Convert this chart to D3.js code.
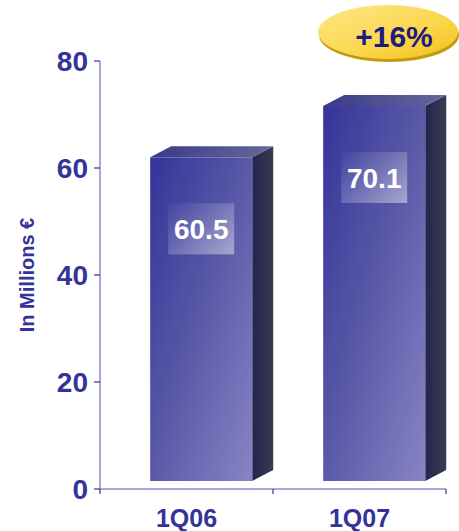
<!DOCTYPE html>
<html><head><meta charset="utf-8">
<script src="https://cdn.jsdelivr.net/npm/d3@7/dist/d3.min.js"></script>
<style>html,body{margin:0;padding:0;background:#fff;}svg{display:block;}</style>
</head><body>
<svg id="c" width="459" height="531"></svg>
<script>
const categories = ["1Q06", "1Q07"];
const values = [60.5, 70.1];
const valueLabels = ["60.5", "70.1"];
const yTicks = [0, 20, 40, 60, 80];
const growthLabel = "+16%";
const yTitle = "In Millions €";

const svg = d3.select("#c");
const font = "'Liberation Sans', Arial, sans-serif";
const navy = "#333399";

const x = d3.scaleBand().domain(categories).range([100, 446]);
const y = d3.scaleLinear().domain([0, 80]).range([489, 61]);

const defs = svg.append("defs");
const fg = defs.append("linearGradient").attr("id", "front").attr("x1", 0).attr("y1", 0).attr("x2", 1).attr("y2", 1);
fg.append("stop").attr("offset", 0).attr("stop-color", "#34349a");
fg.append("stop").attr("offset", 0.5).attr("stop-color", "#5a5aa8");
fg.append("stop").attr("offset", 1).attr("stop-color", "#8884c4");
const sg = defs.append("linearGradient").attr("id", "side").attr("x1", 0).attr("y1", 0).attr("x2", 1).attr("y2", 0);
sg.append("stop").attr("offset", 0).attr("stop-color", "#24244e");
sg.append("stop").attr("offset", 1).attr("stop-color", "#3a3a52");
const tg = defs.append("linearGradient").attr("id", "top").attr("x1", 0).attr("y1", 0).attr("x2", 1).attr("y2", 0);
tg.append("stop").attr("offset", 0).attr("stop-color", "#3a3a8a");
tg.append("stop").attr("offset", 1).attr("stop-color", "#68689a");
const lg = defs.append("linearGradient").attr("id", "lab").attr("x1", 0).attr("y1", 0).attr("x2", 1).attr("y2", 1);
lg.append("stop").attr("offset", 0).attr("stop-color", "#ffffff").attr("stop-opacity", 0.02);
lg.append("stop").attr("offset", 0.45).attr("stop-color", "#ffffff").attr("stop-opacity", 0.18);
lg.append("stop").attr("offset", 1).attr("stop-color", "#ffffff").attr("stop-opacity", 0.45);
const eg = defs.append("linearGradient").attr("id", "ell").attr("x1", 0).attr("y1", 0).attr("x2", 1).attr("y2", 1);
eg.append("stop").attr("offset", 0).attr("stop-color", "#fde98a");
eg.append("stop").attr("offset", 0.6).attr("stop-color", "#fbd54a");
eg.append("stop").attr("offset", 1).attr("stop-color", "#f2c21a");

// axes
const axisColor = "#8a8acc";
svg.append("line").attr("x1", 100).attr("x2", 100).attr("y1", y(80)).attr("y2", y(0)).attr("stroke", axisColor).attr("stroke-width", 1.5);
svg.append("line").attr("x1", 100).attr("x2", 446).attr("y1", y(0)).attr("y2", y(0)).attr("stroke", axisColor).attr("stroke-width", 1.5);
svg.selectAll(".yt").data(yTicks).join("line")
  .attr("x1", 94).attr("x2", 100).attr("y1", d => y(d)).attr("y2", d => y(d))
  .attr("stroke", navy).attr("stroke-width", 1.2);
svg.selectAll(".ytl").data(yTicks).join("text")
  .attr("x", 88).attr("y", d => y(d) + 10)
  .attr("text-anchor", "end").attr("font-family", font).attr("font-weight", "bold")
  .attr("font-size", 28).attr("fill", navy).text(d => d);
const xTickPos = [x.range()[0], ...categories.map(c => x(c) + x.bandwidth())];
svg.selectAll(".xt").data(xTickPos).join("line")
  .attr("x1", d => d).attr("x2", d => d).attr("y1", y(0)).attr("y2", y(0) + 5)
  .attr("stroke", navy).attr("stroke-width", 1.2);
svg.selectAll(".xtl").data(categories).join("text")
  .attr("x", d => x(d) + x.bandwidth() / 2).attr("y", 527)
  .attr("text-anchor", "middle").attr("font-family", font).attr("font-weight", "bold")
  .attr("font-size", 25).attr("fill", navy).text(d => d);

svg.append("text").attr("transform", "translate(34," + ((y(0) + y(80)) / 2) + ") rotate(-90)")
  .attr("text-anchor", "middle").attr("font-family", font).attr("font-weight", "bold")
  .attr("font-size", 20).attr("fill", navy).text(yTitle);

// bars
const lift = 8, dx = 21, dy = 11;
const bw = x.bandwidth() * 0.59, off = x.bandwidth() * 0.29;
const g = svg.selectAll(".bar").data(categories.map((c, i) => ({c, v: values[i], l: valueLabels[i]}))).join("g");
g.each(function(d) {
  const s = d3.select(this);
  const x0 = x(d.c) + off, x1 = x0 + bw;
  const yb = y(0) - lift, yt = y(d.v) - lift;
  s.append("path").attr("d", `M${x1},${yt}L${x1+dx},${yt-dy}L${x1+dx},${yb-dy}L${x1},${yb}Z`).attr("fill", "url(#side)");
  s.append("path").attr("d", `M${x0},${yt}L${x0+dx},${yt-dy}L${x1+dx},${yt-dy}L${x1},${yt}Z`).attr("fill", "url(#top)");
  s.append("rect").attr("x", x0).attr("y", yt).attr("width", bw).attr("height", yb - yt).attr("fill", "url(#front)");
  const cx = x0 + bw / 2;
  s.append("rect").attr("x", cx - 33).attr("y", yt + 46).attr("width", 66).attr("height", 51).attr("fill", "url(#lab)");
  s.append("text").attr("x", cx).attr("y", yt + 82).attr("text-anchor", "middle")
    .attr("font-family", font).attr("font-weight", "bold").attr("font-size", 28).attr("fill", "#fff").text(d.l);
});

// growth badge
svg.append("ellipse").attr("cx", 389).attr("cy", 35).attr("rx", 70).attr("ry", 27).attr("fill", "#c29a10");
svg.append("ellipse").attr("cx", 388).attr("cy", 32).attr("rx", 70).attr("ry", 27).attr("fill", "url(#ell)");
svg.append("text").attr("x", 394).attr("y", 47).attr("text-anchor", "middle")
  .attr("font-family", font).attr("font-weight", "bold").attr("font-size", 30).attr("fill", "#1c1c80").text(growthLabel);
</script>
</body></html>
